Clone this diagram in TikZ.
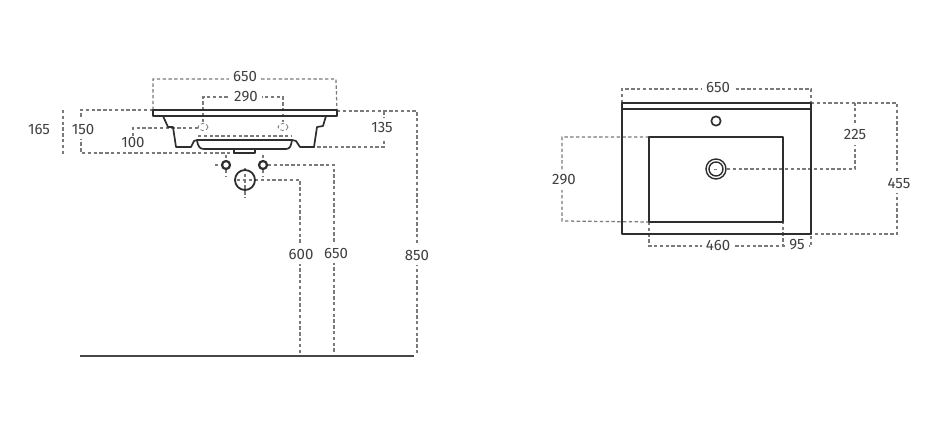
\documentclass[tikz,border=0pt]{standalone}
\usepackage{fontspec}
\setmainfont{Fira Sans}
\tikzset{
  solidline/.style={draw=black!82,line width=1.7pt,line join=round},
  dim/.style={draw=black!52,line width=1.25pt,dash pattern=on 3.4pt off 2.4pt},
  lab/.style={fill=white,text=black!75,font=\fontsize{15}{16}\selectfont},
  hlab/.style={lab,inner xsep=4pt,inner ysep=1pt},
  vlab/.style={lab,inner xsep=1pt,inner ysep=5pt},
}
\begin{document}
\begin{tikzpicture}[x=1pt,y=-1pt]
\useasboundingbox (0,0) rectangle (937,430);
% ---- left view: dimension lines
\coordinate (slabTL) at (153,110);
\coordinate (slabTR) at (337,111);
\draw[dim] (slabTL) -- (153,79) -- (336,79) -- (slabTR);
\draw[dim] (203,122) -- (203,97) -- (283,97) -- (283,122);
\draw[dim] (slabTL) -- (81,110) -- (81,153) -- (234,153);
\draw[dim] (63,110) -- (63,155);
\draw[dim] (133,136) -- (133,128) -- (198,128);
\draw[dim] (198,136) -- (292,136);
\draw[dim] (300,147) -- (384,147) -- (384,111);
\draw[dim] (slabTR) -- (417,111) -- (417,354);
\draw[dim] (268,165) -- (334,165) -- (334,354);
\draw[dim] (255,180) -- (300,180) -- (300,354);
\draw[dim] (215,165) -- (221,165);
\draw[dim] (226,155) -- (226,160);
\draw[dim] (226,170) -- (226,176);
\draw[dim] (263,155) -- (263,160);
\draw[dim] (263,170) -- (263,176);
\draw[dim] (245,168) -- (245,198);
\draw[dim] (237,180) -- (253,180);
\draw[dim,line width=.8pt] (203,127) ellipse (5 and 3.5);
\draw[dim,line width=.8pt] (283,127) ellipse (5 and 3.5);
% ---- left view: basin
\draw[solidline] (slabTL) rectangle (337,116);
\draw[solidline] (163,116) -- (168,127) -- (173,127) -- (176,147) -- (191,147)
  -- (194,141) -- (197,140) -- (292,140) -- (296,141) -- (300,147) -- (314,147)
  -- (317,127) -- (323,126) -- (326,116);
\draw[solidline] (197,140) .. controls (198,147) and (200,149) .. (204,149)
  -- (286,149) .. controls (290,149) and (291,146) .. (292,140);
\draw[solidline] (234,149) -- (234,153) -- (255,153) -- (255,149);
\draw[solidline,line width=2.2pt] (226,165) circle (4);
\draw[solidline,line width=2.2pt] (263,165) circle (4);
\draw[solidline,line width=1.8pt] (245,180) circle (10);
\draw[draw=black!72,line width=2.2pt] (80,356) -- (414,356);
% ---- right view: dimension lines
\coordinate (R1) at (622,103);
\coordinate (R2) at (811,103);
\coordinate (R3) at (811,234);
\coordinate (B1) at (649,137);
\coordinate (B2) at (783,137);
\coordinate (B3) at (783,222);
\coordinate (B4) at (649,222);
\draw[dim] (R1) -- (622,89) -- (811,89) -- (R2);
\draw[dim] (B1) -- (562,137) -- (562,221) -- (B4);
\draw[dim] (B4) -- (649,246) -- (783,246) -- (B3);
\draw[dim] (783,246) -- (811,246) -- (R3);
\draw[dim] (727,169) -- (855,169) -- (855,103);
\draw[dim] (R2) -- (897,103) -- (897,234) -- (R3);
% ---- right view: basin
\draw[solidline] (R1) rectangle (R3);
\draw[solidline] (622,109) -- (811,109);
\draw[solidline] (B1) rectangle (B3);
\draw[solidline] (716,121) circle (4.7);
\draw[solidline,line width=1.4pt] (716,169) circle (10);
\draw[solidline,line width=1.4pt] (716,169) circle (7);
\draw[dim,line width=.8pt] (714,169) -- (718,169);
% ---- labels
\node[hlab] (a1) at (245,77) {650};
\node[hlab] (a2) at (246,96.5) {290};
\node[lab,fill=none] (a3) at (39,129) {165};
\node[vlab] (a4) at (83,129) {150};
\node[lab,fill=none] (a5) at (133,143) {100};
\node[vlab] (a6) at (382,128) {135};
\node[vlab] (a7) at (301,254) {600};
\node[vlab] (a8) at (336,253) {650};
\node[vlab] (a9) at (417,255) {850};
\node[hlab] (b1) at (718,88) {650};
\node[vlab] (b2) at (564,180) {290};
\node[hlab] (b3) at (718,245) {460};
\node[hlab] (b4) at (797,245) {95};
\node[vlab] (b5) at (855,135) {225};
\node[vlab] (b6) at (899,183) {455};
\end{tikzpicture}
\end{document}
